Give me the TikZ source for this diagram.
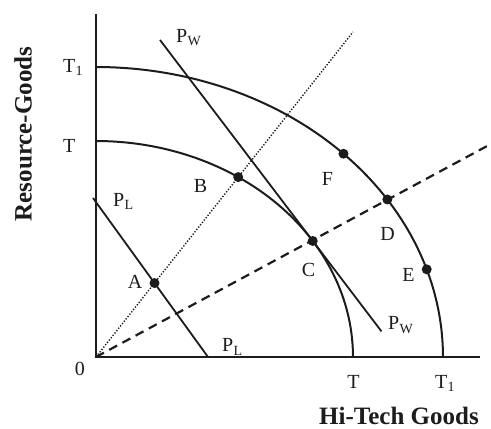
\documentclass[tikz,border=0pt]{standalone}
\usepackage{fontspec}
\setmainfont{Liberation Serif}
\usetikzlibrary{calc}
\definecolor{ink}{RGB}{28,28,28}
\tikzset{
  axis/.style={line width=1.8pt, draw=ink},
  frontier/.style={line width=2pt, draw=ink},
  price/.style={line width=1.8pt, draw=ink},
  dotray/.style={line width=1.4pt, draw=ink, dash pattern=on 1.3pt off 1.7pt},
  dashray/.style={line width=2.2pt, draw=ink, dash pattern=on 9pt off 6pt},
  pt/.style={circle, fill=ink, inner sep=0pt, minimum size=10pt},
  lbl/.style={font=\fontsize{20}{22}\selectfont, text=ink, inner sep=0pt},
  axlbl/.style={font=\bfseries\fontsize{25}{27}\selectfont, text=ink, inner sep=0pt}
}
\newcommand{\lowsub}[2]{#1\kern0.3pt\raisebox{-3pt}{\fontsize{14}{14}\selectfont #2}}

\begin{document}
\begin{tikzpicture}[x=1pt, y=1pt]
  \useasboundingbox (-96,-72) rectangle (395,357);

  % Axes and rays from the origin
  \coordinate (O) at (0,0);
  \coordinate (ytop) at (0,343);
  \coordinate (xend) at (384,0);
  \coordinate (dotend) at (257,325);
  \coordinate (dashend) at (393,212);
  \draw[dotray] (O) -- (dotend);
  \draw[dashray] (O) -- (dashend);

  % Production frontiers T and T1
  \draw[frontier, domain=0:90, samples=80] plot ({257*cos(\x)}, {216*sin(\x)});
  \draw[frontier, domain=0:90, samples=80] plot ({347*cos(\x)}, {290*sin(\x)});

  % Points on the frontiers
  \coordinate (B) at ({257*cos(56.4)}, {216*sin(56.4)});
  \coordinate (C) at ({257*cos(32.5)}, {216*sin(32.5)});
  \coordinate (D) at ({347*cos(32.9)}, {290*sin(32.9)});
  \coordinate (E) at ({347*cos(17.6)}, {290*sin(17.6)});
  \coordinate (F) at ({347*cos(44.5)}, {290*sin(44.5)});

  % Price lines
  \coordinate (pla) at (-3,159);
  \coordinate (plb) at (112,0);
  \coordinate (A) at ($(pla)!0.535!(plb)$);
  \draw[price] (pla) -- (plb);
  \coordinate (pwa) at (64,317);
  \coordinate (pwb) at ($(pwa)!1.45!(C)$);
  \draw[price] (pwa) -- (pwb);

  \draw[axis] (ytop) -- (O) -- (xend);

  \foreach \p in {A,B,C,D,E,F}
    \node[pt] (dot\p) at (\p) {};

  % Labels
  \node[lbl] (labA) at (39,75.5) {A};
  \node[lbl] (labB) at (104.5,171.5) {B};
  \node[lbl] (labC) at (212.5,87) {C};
  \node[lbl] (labD) at (291.5,123.5) {D};
  \node[lbl] (labE) at (312.5,82) {E};
  \node[lbl] (labF) at (231.5,178.5) {F};
  \node[lbl] (zero) at (-16,-11.5) {0};
  \node[lbl, anchor=base west] (yT1) at (-33,284) {\lowsub{T}{1}};
  \node[lbl, anchor=base west] (yT) at (-33,204) {T};
  \node[lbl, anchor=base] (xT) at (257.5,-31) {T};
  \node[lbl, anchor=base west] (xT1) at (339,-31) {\lowsub{T}{1}};
  \node[lbl, anchor=base west] (plup) at (17,150) {\lowsub{P}{L}};
  \node[lbl, anchor=base west] (pllow) at (126,5) {\lowsub{P}{L}};
  \node[lbl, anchor=base west] (pwup) at (80,314) {\lowsub{P}{W}};
  \node[lbl, anchor=base west] (pwlow) at (292,27) {\lowsub{P}{W}};
  \node[axlbl] (xtitle) at (303,-59) {Hi-Tech Goods};
  \node[axlbl, rotate=90] (ytitle) at (-73,223) {Resource-Goods};
\end{tikzpicture}
\end{document}
